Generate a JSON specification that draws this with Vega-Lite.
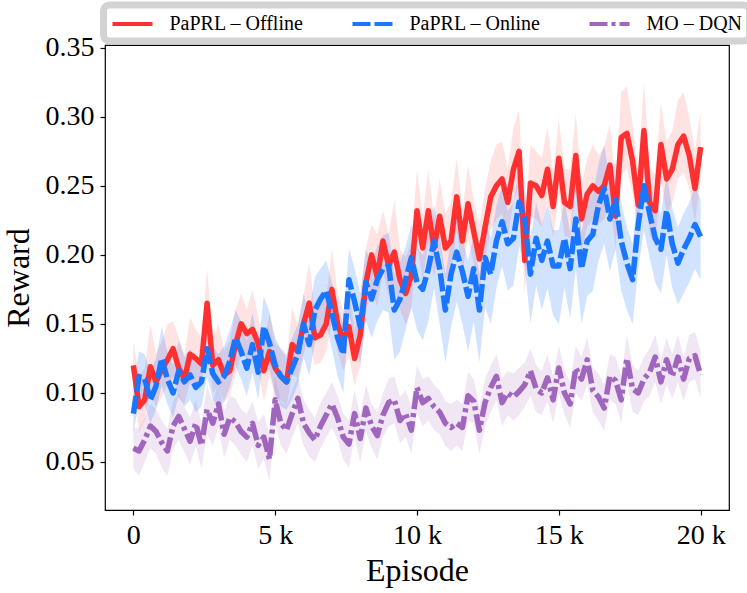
{
  "$schema": "https://vega.github.io/schema/vega-lite/v6.json",
  "description": "Reward per episode for PaPRL offline, PaPRL online and MO-DQN, mean line with shaded band.",
  "width": 624,
  "height": 465,
  "autosize": {"type": "none"},
  "padding": {"left": 105, "top": 45, "right": 18, "bottom": 83},
  "background": "white",
  "datasets": {
    "runs": [
      {"method": "PaPRL – Offline", "episode": 0, "reward": 0.120, "lower": 0.103, "upper": 0.138},
      {"method": "PaPRL – Offline", "episode": 200, "reward": 0.090, "lower": 0.072, "upper": 0.112},
      {"method": "PaPRL – Offline", "episode": 400, "reward": 0.095, "lower": 0.080, "upper": 0.118},
      {"method": "PaPRL – Offline", "episode": 600, "reward": 0.119, "lower": 0.100, "upper": 0.150},
      {"method": "PaPRL – Offline", "episode": 800, "reward": 0.108, "lower": 0.090, "upper": 0.128},
      {"method": "PaPRL – Offline", "episode": 1000, "reward": 0.117, "lower": 0.097, "upper": 0.137},
      {"method": "PaPRL – Offline", "episode": 1200, "reward": 0.124, "lower": 0.106, "upper": 0.150},
      {"method": "PaPRL – Offline", "episode": 1400, "reward": 0.132, "lower": 0.112, "upper": 0.152},
      {"method": "PaPRL – Offline", "episode": 1600, "reward": 0.118, "lower": 0.096, "upper": 0.140},
      {"method": "PaPRL – Offline", "episode": 1800, "reward": 0.110, "lower": 0.092, "upper": 0.128},
      {"method": "PaPRL – Offline", "episode": 2000, "reward": 0.128, "lower": 0.108, "upper": 0.155},
      {"method": "PaPRL – Offline", "episode": 2200, "reward": 0.125, "lower": 0.103, "upper": 0.146},
      {"method": "PaPRL – Offline", "episode": 2400, "reward": 0.121, "lower": 0.104, "upper": 0.140},
      {"method": "PaPRL – Offline", "episode": 2600, "reward": 0.165, "lower": 0.140, "upper": 0.190},
      {"method": "PaPRL – Offline", "episode": 2800, "reward": 0.120, "lower": 0.100, "upper": 0.140},
      {"method": "PaPRL – Offline", "episode": 3000, "reward": 0.124, "lower": 0.106, "upper": 0.150},
      {"method": "PaPRL – Offline", "episode": 3200, "reward": 0.113, "lower": 0.093, "upper": 0.131},
      {"method": "PaPRL – Offline", "episode": 3400, "reward": 0.116, "lower": 0.098, "upper": 0.138},
      {"method": "PaPRL – Offline", "episode": 3600, "reward": 0.135, "lower": 0.113, "upper": 0.160},
      {"method": "PaPRL – Offline", "episode": 3800, "reward": 0.150, "lower": 0.128, "upper": 0.172},
      {"method": "PaPRL – Offline", "episode": 4000, "reward": 0.143, "lower": 0.125, "upper": 0.160},
      {"method": "PaPRL – Offline", "episode": 4200, "reward": 0.146, "lower": 0.124, "upper": 0.175},
      {"method": "PaPRL – Offline", "episode": 4400, "reward": 0.136, "lower": 0.118, "upper": 0.155},
      {"method": "PaPRL – Offline", "episode": 4600, "reward": 0.116, "lower": 0.094, "upper": 0.135},
      {"method": "PaPRL – Offline", "episode": 4800, "reward": 0.130, "lower": 0.112, "upper": 0.158},
      {"method": "PaPRL – Offline", "episode": 5000, "reward": 0.118, "lower": 0.098, "upper": 0.136},
      {"method": "PaPRL – Offline", "episode": 5200, "reward": 0.112, "lower": 0.095, "upper": 0.132},
      {"method": "PaPRL – Offline", "episode": 5400, "reward": 0.108, "lower": 0.090, "upper": 0.125},
      {"method": "PaPRL – Offline", "episode": 5600, "reward": 0.135, "lower": 0.113, "upper": 0.162},
      {"method": "PaPRL – Offline", "episode": 5800, "reward": 0.130, "lower": 0.111, "upper": 0.148},
      {"method": "PaPRL – Offline", "episode": 6000, "reward": 0.150, "lower": 0.128, "upper": 0.170},
      {"method": "PaPRL – Offline", "episode": 6200, "reward": 0.165, "lower": 0.140, "upper": 0.195},
      {"method": "PaPRL – Offline", "episode": 6400, "reward": 0.140, "lower": 0.120, "upper": 0.160},
      {"method": "PaPRL – Offline", "episode": 6600, "reward": 0.142, "lower": 0.122, "upper": 0.170},
      {"method": "PaPRL – Offline", "episode": 6800, "reward": 0.150, "lower": 0.130, "upper": 0.168},
      {"method": "PaPRL – Offline", "episode": 7000, "reward": 0.175, "lower": 0.152, "upper": 0.205},
      {"method": "PaPRL – Offline", "episode": 7200, "reward": 0.150, "lower": 0.130, "upper": 0.172},
      {"method": "PaPRL – Offline", "episode": 7400, "reward": 0.138, "lower": 0.116, "upper": 0.160},
      {"method": "PaPRL – Offline", "episode": 7600, "reward": 0.148, "lower": 0.127, "upper": 0.175},
      {"method": "PaPRL – Offline", "episode": 7800, "reward": 0.125, "lower": 0.105, "upper": 0.145},
      {"method": "PaPRL – Offline", "episode": 8000, "reward": 0.142, "lower": 0.120, "upper": 0.168},
      {"method": "PaPRL – Offline", "episode": 8200, "reward": 0.180, "lower": 0.158, "upper": 0.205},
      {"method": "PaPRL – Offline", "episode": 8400, "reward": 0.200, "lower": 0.176, "upper": 0.222},
      {"method": "PaPRL – Offline", "episode": 8600, "reward": 0.184, "lower": 0.162, "upper": 0.215},
      {"method": "PaPRL – Offline", "episode": 8800, "reward": 0.210, "lower": 0.188, "upper": 0.232},
      {"method": "PaPRL – Offline", "episode": 9000, "reward": 0.192, "lower": 0.170, "upper": 0.215},
      {"method": "PaPRL – Offline", "episode": 9200, "reward": 0.202, "lower": 0.178, "upper": 0.240},
      {"method": "PaPRL – Offline", "episode": 9400, "reward": 0.182, "lower": 0.160, "upper": 0.204},
      {"method": "PaPRL – Offline", "episode": 9600, "reward": 0.172, "lower": 0.150, "upper": 0.198},
      {"method": "PaPRL – Offline", "episode": 9800, "reward": 0.185, "lower": 0.160, "upper": 0.210},
      {"method": "PaPRL – Offline", "episode": 10000, "reward": 0.232, "lower": 0.208, "upper": 0.262},
      {"method": "PaPRL – Offline", "episode": 10200, "reward": 0.205, "lower": 0.182, "upper": 0.228},
      {"method": "PaPRL – Offline", "episode": 10400, "reward": 0.232, "lower": 0.208, "upper": 0.262},
      {"method": "PaPRL – Offline", "episode": 10600, "reward": 0.205, "lower": 0.184, "upper": 0.226},
      {"method": "PaPRL – Offline", "episode": 10800, "reward": 0.228, "lower": 0.204, "upper": 0.255},
      {"method": "PaPRL – Offline", "episode": 11000, "reward": 0.205, "lower": 0.182, "upper": 0.230},
      {"method": "PaPRL – Offline", "episode": 11200, "reward": 0.210, "lower": 0.186, "upper": 0.238},
      {"method": "PaPRL – Offline", "episode": 11400, "reward": 0.242, "lower": 0.218, "upper": 0.270},
      {"method": "PaPRL – Offline", "episode": 11600, "reward": 0.210, "lower": 0.188, "upper": 0.232},
      {"method": "PaPRL – Offline", "episode": 11800, "reward": 0.237, "lower": 0.212, "upper": 0.265},
      {"method": "PaPRL – Offline", "episode": 12000, "reward": 0.217, "lower": 0.194, "upper": 0.240},
      {"method": "PaPRL – Offline", "episode": 12200, "reward": 0.197, "lower": 0.175, "upper": 0.222},
      {"method": "PaPRL – Offline", "episode": 12400, "reward": 0.220, "lower": 0.196, "upper": 0.248},
      {"method": "PaPRL – Offline", "episode": 12600, "reward": 0.242, "lower": 0.218, "upper": 0.268},
      {"method": "PaPRL – Offline", "episode": 12800, "reward": 0.250, "lower": 0.226, "upper": 0.280},
      {"method": "PaPRL – Offline", "episode": 13000, "reward": 0.255, "lower": 0.230, "upper": 0.282},
      {"method": "PaPRL – Offline", "episode": 13200, "reward": 0.238, "lower": 0.214, "upper": 0.262},
      {"method": "PaPRL – Offline", "episode": 13400, "reward": 0.262, "lower": 0.238, "upper": 0.292},
      {"method": "PaPRL – Offline", "episode": 13600, "reward": 0.275, "lower": 0.250, "upper": 0.305},
      {"method": "PaPRL – Offline", "episode": 13800, "reward": 0.196, "lower": 0.172, "upper": 0.220},
      {"method": "PaPRL – Offline", "episode": 14000, "reward": 0.252, "lower": 0.228, "upper": 0.280},
      {"method": "PaPRL – Offline", "episode": 14200, "reward": 0.250, "lower": 0.226, "upper": 0.275},
      {"method": "PaPRL – Offline", "episode": 14400, "reward": 0.243, "lower": 0.220, "upper": 0.270},
      {"method": "PaPRL – Offline", "episode": 14600, "reward": 0.262, "lower": 0.238, "upper": 0.292},
      {"method": "PaPRL – Offline", "episode": 14800, "reward": 0.235, "lower": 0.212, "upper": 0.260},
      {"method": "PaPRL – Offline", "episode": 15000, "reward": 0.270, "lower": 0.245, "upper": 0.298},
      {"method": "PaPRL – Offline", "episode": 15200, "reward": 0.238, "lower": 0.214, "upper": 0.262},
      {"method": "PaPRL – Offline", "episode": 15400, "reward": 0.235, "lower": 0.212, "upper": 0.262},
      {"method": "PaPRL – Offline", "episode": 15600, "reward": 0.272, "lower": 0.246, "upper": 0.302},
      {"method": "PaPRL – Offline", "episode": 15800, "reward": 0.226, "lower": 0.202, "upper": 0.250},
      {"method": "PaPRL – Offline", "episode": 16000, "reward": 0.244, "lower": 0.220, "upper": 0.270},
      {"method": "PaPRL – Offline", "episode": 16200, "reward": 0.250, "lower": 0.226, "upper": 0.280},
      {"method": "PaPRL – Offline", "episode": 16400, "reward": 0.246, "lower": 0.222, "upper": 0.272},
      {"method": "PaPRL – Offline", "episode": 16600, "reward": 0.250, "lower": 0.226, "upper": 0.278},
      {"method": "PaPRL – Offline", "episode": 16800, "reward": 0.265, "lower": 0.240, "upper": 0.295},
      {"method": "PaPRL – Offline", "episode": 17000, "reward": 0.228, "lower": 0.204, "upper": 0.252},
      {"method": "PaPRL – Offline", "episode": 17200, "reward": 0.285, "lower": 0.258, "upper": 0.318},
      {"method": "PaPRL – Offline", "episode": 17400, "reward": 0.288, "lower": 0.262, "upper": 0.322},
      {"method": "PaPRL – Offline", "episode": 17600, "reward": 0.268, "lower": 0.244, "upper": 0.295},
      {"method": "PaPRL – Offline", "episode": 17800, "reward": 0.236, "lower": 0.212, "upper": 0.262},
      {"method": "PaPRL – Offline", "episode": 18000, "reward": 0.290, "lower": 0.264, "upper": 0.325},
      {"method": "PaPRL – Offline", "episode": 18200, "reward": 0.238, "lower": 0.214, "upper": 0.264},
      {"method": "PaPRL – Offline", "episode": 18400, "reward": 0.232, "lower": 0.208, "upper": 0.258},
      {"method": "PaPRL – Offline", "episode": 18600, "reward": 0.280, "lower": 0.255, "upper": 0.310},
      {"method": "PaPRL – Offline", "episode": 18800, "reward": 0.255, "lower": 0.230, "upper": 0.282},
      {"method": "PaPRL – Offline", "episode": 19000, "reward": 0.262, "lower": 0.238, "upper": 0.290},
      {"method": "PaPRL – Offline", "episode": 19200, "reward": 0.280, "lower": 0.255, "upper": 0.312},
      {"method": "PaPRL – Offline", "episode": 19400, "reward": 0.286, "lower": 0.260, "upper": 0.318},
      {"method": "PaPRL – Offline", "episode": 19600, "reward": 0.272, "lower": 0.248, "upper": 0.300},
      {"method": "PaPRL – Offline", "episode": 19800, "reward": 0.248, "lower": 0.224, "upper": 0.275},
      {"method": "PaPRL – Offline", "episode": 20000, "reward": 0.278, "lower": 0.254, "upper": 0.305},

      {"method": "PaPRL – Online", "episode": 0, "reward": 0.085, "lower": 0.070, "upper": 0.105},
      {"method": "PaPRL – Online", "episode": 200, "reward": 0.112, "lower": 0.095, "upper": 0.130},
      {"method": "PaPRL – Online", "episode": 400, "reward": 0.110, "lower": 0.092, "upper": 0.128},
      {"method": "PaPRL – Online", "episode": 600, "reward": 0.095, "lower": 0.078, "upper": 0.115},
      {"method": "PaPRL – Online", "episode": 800, "reward": 0.105, "lower": 0.088, "upper": 0.125},
      {"method": "PaPRL – Online", "episode": 1000, "reward": 0.125, "lower": 0.105, "upper": 0.148},
      {"method": "PaPRL – Online", "episode": 1200, "reward": 0.110, "lower": 0.092, "upper": 0.130},
      {"method": "PaPRL – Online", "episode": 1400, "reward": 0.100, "lower": 0.082, "upper": 0.120},
      {"method": "PaPRL – Online", "episode": 1600, "reward": 0.116, "lower": 0.098, "upper": 0.138},
      {"method": "PaPRL – Online", "episode": 1800, "reward": 0.108, "lower": 0.090, "upper": 0.126},
      {"method": "PaPRL – Online", "episode": 2000, "reward": 0.113, "lower": 0.095, "upper": 0.132},
      {"method": "PaPRL – Online", "episode": 2200, "reward": 0.104, "lower": 0.086, "upper": 0.124},
      {"method": "PaPRL – Online", "episode": 2400, "reward": 0.108, "lower": 0.090, "upper": 0.128},
      {"method": "PaPRL – Online", "episode": 2600, "reward": 0.132, "lower": 0.112, "upper": 0.152},
      {"method": "PaPRL – Online", "episode": 2800, "reward": 0.114, "lower": 0.095, "upper": 0.134},
      {"method": "PaPRL – Online", "episode": 3000, "reward": 0.108, "lower": 0.090, "upper": 0.128},
      {"method": "PaPRL – Online", "episode": 3200, "reward": 0.112, "lower": 0.094, "upper": 0.134},
      {"method": "PaPRL – Online", "episode": 3400, "reward": 0.123, "lower": 0.104, "upper": 0.145},
      {"method": "PaPRL – Online", "episode": 3600, "reward": 0.140, "lower": 0.120, "upper": 0.160},
      {"method": "PaPRL – Online", "episode": 3800, "reward": 0.130, "lower": 0.110, "upper": 0.152},
      {"method": "PaPRL – Online", "episode": 4000, "reward": 0.118, "lower": 0.098, "upper": 0.138},
      {"method": "PaPRL – Online", "episode": 4200, "reward": 0.135, "lower": 0.115, "upper": 0.158},
      {"method": "PaPRL – Online", "episode": 4400, "reward": 0.115, "lower": 0.095, "upper": 0.135},
      {"method": "PaPRL – Online", "episode": 4600, "reward": 0.148, "lower": 0.126, "upper": 0.170},
      {"method": "PaPRL – Online", "episode": 4800, "reward": 0.136, "lower": 0.116, "upper": 0.158},
      {"method": "PaPRL – Online", "episode": 5000, "reward": 0.120, "lower": 0.100, "upper": 0.140},
      {"method": "PaPRL – Online", "episode": 5200, "reward": 0.112, "lower": 0.090, "upper": 0.132},
      {"method": "PaPRL – Online", "episode": 5400, "reward": 0.108, "lower": 0.088, "upper": 0.128},
      {"method": "PaPRL – Online", "episode": 5600, "reward": 0.118, "lower": 0.096, "upper": 0.140},
      {"method": "PaPRL – Online", "episode": 5800, "reward": 0.128, "lower": 0.106, "upper": 0.150},
      {"method": "PaPRL – Online", "episode": 6000, "reward": 0.150, "lower": 0.126, "upper": 0.172},
      {"method": "PaPRL – Online", "episode": 6200, "reward": 0.135, "lower": 0.112, "upper": 0.158},
      {"method": "PaPRL – Online", "episode": 6400, "reward": 0.160, "lower": 0.136, "upper": 0.184},
      {"method": "PaPRL – Online", "episode": 6600, "reward": 0.168, "lower": 0.144, "upper": 0.190},
      {"method": "PaPRL – Online", "episode": 6800, "reward": 0.174, "lower": 0.150, "upper": 0.196},
      {"method": "PaPRL – Online", "episode": 7000, "reward": 0.158, "lower": 0.132, "upper": 0.180},
      {"method": "PaPRL – Online", "episode": 7200, "reward": 0.140, "lower": 0.112, "upper": 0.162},
      {"method": "PaPRL – Online", "episode": 7400, "reward": 0.128, "lower": 0.100, "upper": 0.150},
      {"method": "PaPRL – Online", "episode": 7600, "reward": 0.182, "lower": 0.156, "upper": 0.205},
      {"method": "PaPRL – Online", "episode": 7800, "reward": 0.166, "lower": 0.140, "upper": 0.190},
      {"method": "PaPRL – Online", "episode": 8000, "reward": 0.148, "lower": 0.120, "upper": 0.172},
      {"method": "PaPRL – Online", "episode": 8200, "reward": 0.180, "lower": 0.152, "upper": 0.204},
      {"method": "PaPRL – Online", "episode": 8400, "reward": 0.168, "lower": 0.140, "upper": 0.192},
      {"method": "PaPRL – Online", "episode": 8600, "reward": 0.182, "lower": 0.152, "upper": 0.206},
      {"method": "PaPRL – Online", "episode": 8800, "reward": 0.190, "lower": 0.160, "upper": 0.214},
      {"method": "PaPRL – Online", "episode": 9000, "reward": 0.192, "lower": 0.158, "upper": 0.216},
      {"method": "PaPRL – Online", "episode": 9200, "reward": 0.160, "lower": 0.124, "upper": 0.186},
      {"method": "PaPRL – Online", "episode": 9400, "reward": 0.168, "lower": 0.130, "upper": 0.194},
      {"method": "PaPRL – Online", "episode": 9600, "reward": 0.182, "lower": 0.146, "upper": 0.206},
      {"method": "PaPRL – Online", "episode": 9800, "reward": 0.198, "lower": 0.162, "upper": 0.222},
      {"method": "PaPRL – Online", "episode": 10000, "reward": 0.180, "lower": 0.146, "upper": 0.206},
      {"method": "PaPRL – Online", "episode": 10200, "reward": 0.175, "lower": 0.138, "upper": 0.200},
      {"method": "PaPRL – Online", "episode": 10400, "reward": 0.190, "lower": 0.152, "upper": 0.214},
      {"method": "PaPRL – Online", "episode": 10600, "reward": 0.210, "lower": 0.176, "upper": 0.236},
      {"method": "PaPRL – Online", "episode": 10800, "reward": 0.190, "lower": 0.150, "upper": 0.214},
      {"method": "PaPRL – Online", "episode": 11000, "reward": 0.160, "lower": 0.122, "upper": 0.186},
      {"method": "PaPRL – Online", "episode": 11200, "reward": 0.186, "lower": 0.148, "upper": 0.210},
      {"method": "PaPRL – Online", "episode": 11400, "reward": 0.202, "lower": 0.166, "upper": 0.226},
      {"method": "PaPRL – Online", "episode": 11600, "reward": 0.188, "lower": 0.150, "upper": 0.212},
      {"method": "PaPRL – Online", "episode": 11800, "reward": 0.170, "lower": 0.130, "upper": 0.196},
      {"method": "PaPRL – Online", "episode": 12000, "reward": 0.190, "lower": 0.152, "upper": 0.214},
      {"method": "PaPRL – Online", "episode": 12200, "reward": 0.160, "lower": 0.122, "upper": 0.186},
      {"method": "PaPRL – Online", "episode": 12400, "reward": 0.198, "lower": 0.162, "upper": 0.224},
      {"method": "PaPRL – Online", "episode": 12600, "reward": 0.186, "lower": 0.150, "upper": 0.212},
      {"method": "PaPRL – Online", "episode": 12800, "reward": 0.210, "lower": 0.176, "upper": 0.236},
      {"method": "PaPRL – Online", "episode": 13000, "reward": 0.224, "lower": 0.192, "upper": 0.250},
      {"method": "PaPRL – Online", "episode": 13200, "reward": 0.208, "lower": 0.174, "upper": 0.232},
      {"method": "PaPRL – Online", "episode": 13400, "reward": 0.212, "lower": 0.178, "upper": 0.238},
      {"method": "PaPRL – Online", "episode": 13600, "reward": 0.238, "lower": 0.206, "upper": 0.266},
      {"method": "PaPRL – Online", "episode": 13800, "reward": 0.226, "lower": 0.192, "upper": 0.252},
      {"method": "PaPRL – Online", "episode": 14000, "reward": 0.186, "lower": 0.150, "upper": 0.212},
      {"method": "PaPRL – Online", "episode": 14200, "reward": 0.212, "lower": 0.178, "upper": 0.238},
      {"method": "PaPRL – Online", "episode": 14400, "reward": 0.196, "lower": 0.160, "upper": 0.222},
      {"method": "PaPRL – Online", "episode": 14600, "reward": 0.210, "lower": 0.176, "upper": 0.236},
      {"method": "PaPRL – Online", "episode": 14800, "reward": 0.192, "lower": 0.156, "upper": 0.218},
      {"method": "PaPRL – Online", "episode": 15000, "reward": 0.192, "lower": 0.150, "upper": 0.218},
      {"method": "PaPRL – Online", "episode": 15200, "reward": 0.212, "lower": 0.176, "upper": 0.240},
      {"method": "PaPRL – Online", "episode": 15400, "reward": 0.190, "lower": 0.154, "upper": 0.216},
      {"method": "PaPRL – Online", "episode": 15600, "reward": 0.226, "lower": 0.190, "upper": 0.262},
      {"method": "PaPRL – Online", "episode": 15800, "reward": 0.190, "lower": 0.150, "upper": 0.216},
      {"method": "PaPRL – Online", "episode": 16000, "reward": 0.210, "lower": 0.170, "upper": 0.238},
      {"method": "PaPRL – Online", "episode": 16200, "reward": 0.215, "lower": 0.174, "upper": 0.244},
      {"method": "PaPRL – Online", "episode": 16400, "reward": 0.236, "lower": 0.196, "upper": 0.266},
      {"method": "PaPRL – Online", "episode": 16600, "reward": 0.248, "lower": 0.208, "upper": 0.280},
      {"method": "PaPRL – Online", "episode": 16800, "reward": 0.226, "lower": 0.188, "upper": 0.254},
      {"method": "PaPRL – Online", "episode": 17000, "reward": 0.240, "lower": 0.204, "upper": 0.268},
      {"method": "PaPRL – Online", "episode": 17200, "reward": 0.210, "lower": 0.174, "upper": 0.238},
      {"method": "PaPRL – Online", "episode": 17400, "reward": 0.194, "lower": 0.160, "upper": 0.220},
      {"method": "PaPRL – Online", "episode": 17600, "reward": 0.182, "lower": 0.150, "upper": 0.208},
      {"method": "PaPRL – Online", "episode": 17800, "reward": 0.222, "lower": 0.190, "upper": 0.248},
      {"method": "PaPRL – Online", "episode": 18000, "reward": 0.250, "lower": 0.218, "upper": 0.276},
      {"method": "PaPRL – Online", "episode": 18200, "reward": 0.230, "lower": 0.198, "upper": 0.256},
      {"method": "PaPRL – Online", "episode": 18400, "reward": 0.212, "lower": 0.180, "upper": 0.238},
      {"method": "PaPRL – Online", "episode": 18600, "reward": 0.204, "lower": 0.172, "upper": 0.230},
      {"method": "PaPRL – Online", "episode": 18800, "reward": 0.232, "lower": 0.200, "upper": 0.258},
      {"method": "PaPRL – Online", "episode": 19000, "reward": 0.208, "lower": 0.176, "upper": 0.234},
      {"method": "PaPRL – Online", "episode": 19200, "reward": 0.194, "lower": 0.164, "upper": 0.220},
      {"method": "PaPRL – Online", "episode": 19400, "reward": 0.204, "lower": 0.172, "upper": 0.230},
      {"method": "PaPRL – Online", "episode": 19600, "reward": 0.212, "lower": 0.180, "upper": 0.238},
      {"method": "PaPRL – Online", "episode": 19800, "reward": 0.222, "lower": 0.190, "upper": 0.250},
      {"method": "PaPRL – Online", "episode": 20000, "reward": 0.213, "lower": 0.182, "upper": 0.240},

      {"method": "MO – DQN", "episode": 0, "reward": 0.060, "lower": 0.045, "upper": 0.075},
      {"method": "MO – DQN", "episode": 200, "reward": 0.058, "lower": 0.040, "upper": 0.074},
      {"method": "MO – DQN", "episode": 400, "reward": 0.066, "lower": 0.050, "upper": 0.082},
      {"method": "MO – DQN", "episode": 600, "reward": 0.076, "lower": 0.060, "upper": 0.092},
      {"method": "MO – DQN", "episode": 800, "reward": 0.072, "lower": 0.056, "upper": 0.088},
      {"method": "MO – DQN", "episode": 1000, "reward": 0.064, "lower": 0.046, "upper": 0.080},
      {"method": "MO – DQN", "episode": 1200, "reward": 0.058, "lower": 0.040, "upper": 0.074},
      {"method": "MO – DQN", "episode": 1400, "reward": 0.076, "lower": 0.060, "upper": 0.094},
      {"method": "MO – DQN", "episode": 1600, "reward": 0.083, "lower": 0.066, "upper": 0.100},
      {"method": "MO – DQN", "episode": 1800, "reward": 0.074, "lower": 0.057, "upper": 0.090},
      {"method": "MO – DQN", "episode": 2000, "reward": 0.065, "lower": 0.048, "upper": 0.082},
      {"method": "MO – DQN", "episode": 2200, "reward": 0.078, "lower": 0.062, "upper": 0.095},
      {"method": "MO – DQN", "episode": 2400, "reward": 0.062, "lower": 0.045, "upper": 0.078},
      {"method": "MO – DQN", "episode": 2600, "reward": 0.088, "lower": 0.070, "upper": 0.105},
      {"method": "MO – DQN", "episode": 2800, "reward": 0.078, "lower": 0.062, "upper": 0.094},
      {"method": "MO – DQN", "episode": 3000, "reward": 0.092, "lower": 0.075, "upper": 0.108},
      {"method": "MO – DQN", "episode": 3200, "reward": 0.070, "lower": 0.053, "upper": 0.087},
      {"method": "MO – DQN", "episode": 3400, "reward": 0.082, "lower": 0.066, "upper": 0.098},
      {"method": "MO – DQN", "episode": 3600, "reward": 0.079, "lower": 0.062, "upper": 0.096},
      {"method": "MO – DQN", "episode": 3800, "reward": 0.072, "lower": 0.055, "upper": 0.088},
      {"method": "MO – DQN", "episode": 4000, "reward": 0.068, "lower": 0.050, "upper": 0.085},
      {"method": "MO – DQN", "episode": 4200, "reward": 0.078, "lower": 0.062, "upper": 0.094},
      {"method": "MO – DQN", "episode": 4400, "reward": 0.062, "lower": 0.045, "upper": 0.079},
      {"method": "MO – DQN", "episode": 4600, "reward": 0.068, "lower": 0.052, "upper": 0.085},
      {"method": "MO – DQN", "episode": 4800, "reward": 0.052, "lower": 0.036, "upper": 0.070},
      {"method": "MO – DQN", "episode": 5000, "reward": 0.095, "lower": 0.078, "upper": 0.112},
      {"method": "MO – DQN", "episode": 5200, "reward": 0.078, "lower": 0.062, "upper": 0.094},
      {"method": "MO – DQN", "episode": 5400, "reward": 0.073, "lower": 0.056, "upper": 0.090},
      {"method": "MO – DQN", "episode": 5600, "reward": 0.085, "lower": 0.068, "upper": 0.102},
      {"method": "MO – DQN", "episode": 5800, "reward": 0.096, "lower": 0.078, "upper": 0.112},
      {"method": "MO – DQN", "episode": 6000, "reward": 0.078, "lower": 0.062, "upper": 0.095},
      {"method": "MO – DQN", "episode": 6200, "reward": 0.071, "lower": 0.054, "upper": 0.088},
      {"method": "MO – DQN", "episode": 6400, "reward": 0.066, "lower": 0.050, "upper": 0.082},
      {"method": "MO – DQN", "episode": 6600, "reward": 0.076, "lower": 0.060, "upper": 0.093},
      {"method": "MO – DQN", "episode": 6800, "reward": 0.084, "lower": 0.068, "upper": 0.100},
      {"method": "MO – DQN", "episode": 7000, "reward": 0.092, "lower": 0.075, "upper": 0.108},
      {"method": "MO – DQN", "episode": 7200, "reward": 0.082, "lower": 0.066, "upper": 0.098},
      {"method": "MO – DQN", "episode": 7400, "reward": 0.068, "lower": 0.052, "upper": 0.085},
      {"method": "MO – DQN", "episode": 7600, "reward": 0.063, "lower": 0.046, "upper": 0.080},
      {"method": "MO – DQN", "episode": 7800, "reward": 0.085, "lower": 0.068, "upper": 0.102},
      {"method": "MO – DQN", "episode": 8000, "reward": 0.067, "lower": 0.050, "upper": 0.084},
      {"method": "MO – DQN", "episode": 8200, "reward": 0.089, "lower": 0.072, "upper": 0.106},
      {"method": "MO – DQN", "episode": 8400, "reward": 0.076, "lower": 0.060, "upper": 0.092},
      {"method": "MO – DQN", "episode": 8600, "reward": 0.069, "lower": 0.052, "upper": 0.086},
      {"method": "MO – DQN", "episode": 8800, "reward": 0.084, "lower": 0.068, "upper": 0.100},
      {"method": "MO – DQN", "episode": 9000, "reward": 0.093, "lower": 0.076, "upper": 0.110},
      {"method": "MO – DQN", "episode": 9200, "reward": 0.095, "lower": 0.078, "upper": 0.112},
      {"method": "MO – DQN", "episode": 9400, "reward": 0.080, "lower": 0.064, "upper": 0.097},
      {"method": "MO – DQN", "episode": 9600, "reward": 0.085, "lower": 0.068, "upper": 0.102},
      {"method": "MO – DQN", "episode": 9800, "reward": 0.073, "lower": 0.056, "upper": 0.090},
      {"method": "MO – DQN", "episode": 10000, "reward": 0.104, "lower": 0.086, "upper": 0.120},
      {"method": "MO – DQN", "episode": 10200, "reward": 0.093, "lower": 0.076, "upper": 0.110},
      {"method": "MO – DQN", "episode": 10400, "reward": 0.096, "lower": 0.080, "upper": 0.112},
      {"method": "MO – DQN", "episode": 10600, "reward": 0.090, "lower": 0.073, "upper": 0.106},
      {"method": "MO – DQN", "episode": 10800, "reward": 0.086, "lower": 0.070, "upper": 0.102},
      {"method": "MO – DQN", "episode": 11000, "reward": 0.078, "lower": 0.062, "upper": 0.094},
      {"method": "MO – DQN", "episode": 11200, "reward": 0.075, "lower": 0.058, "upper": 0.092},
      {"method": "MO – DQN", "episode": 11400, "reward": 0.078, "lower": 0.062, "upper": 0.095},
      {"method": "MO – DQN", "episode": 11600, "reward": 0.075, "lower": 0.058, "upper": 0.092},
      {"method": "MO – DQN", "episode": 11800, "reward": 0.098, "lower": 0.080, "upper": 0.115},
      {"method": "MO – DQN", "episode": 12000, "reward": 0.094, "lower": 0.078, "upper": 0.110},
      {"method": "MO – DQN", "episode": 12200, "reward": 0.073, "lower": 0.056, "upper": 0.090},
      {"method": "MO – DQN", "episode": 12400, "reward": 0.093, "lower": 0.076, "upper": 0.110},
      {"method": "MO – DQN", "episode": 12600, "reward": 0.104, "lower": 0.086, "upper": 0.120},
      {"method": "MO – DQN", "episode": 12800, "reward": 0.112, "lower": 0.095, "upper": 0.128},
      {"method": "MO – DQN", "episode": 13000, "reward": 0.093, "lower": 0.076, "upper": 0.110},
      {"method": "MO – DQN", "episode": 13200, "reward": 0.100, "lower": 0.084, "upper": 0.116},
      {"method": "MO – DQN", "episode": 13400, "reward": 0.097, "lower": 0.080, "upper": 0.114},
      {"method": "MO – DQN", "episode": 13600, "reward": 0.101, "lower": 0.084, "upper": 0.118},
      {"method": "MO – DQN", "episode": 13800, "reward": 0.106, "lower": 0.090, "upper": 0.122},
      {"method": "MO – DQN", "episode": 14000, "reward": 0.116, "lower": 0.098, "upper": 0.132},
      {"method": "MO – DQN", "episode": 14200, "reward": 0.103, "lower": 0.086, "upper": 0.120},
      {"method": "MO – DQN", "episode": 14400, "reward": 0.100, "lower": 0.084, "upper": 0.116},
      {"method": "MO – DQN", "episode": 14600, "reward": 0.111, "lower": 0.094, "upper": 0.128},
      {"method": "MO – DQN", "episode": 14800, "reward": 0.095, "lower": 0.078, "upper": 0.112},
      {"method": "MO – DQN", "episode": 15000, "reward": 0.118, "lower": 0.100, "upper": 0.134},
      {"method": "MO – DQN", "episode": 15200, "reward": 0.100, "lower": 0.084, "upper": 0.116},
      {"method": "MO – DQN", "episode": 15400, "reward": 0.092, "lower": 0.075, "upper": 0.108},
      {"method": "MO – DQN", "episode": 15600, "reward": 0.118, "lower": 0.100, "upper": 0.134},
      {"method": "MO – DQN", "episode": 15800, "reward": 0.110, "lower": 0.094, "upper": 0.126},
      {"method": "MO – DQN", "episode": 16000, "reward": 0.124, "lower": 0.106, "upper": 0.140},
      {"method": "MO – DQN", "episode": 16200, "reward": 0.102, "lower": 0.086, "upper": 0.118},
      {"method": "MO – DQN", "episode": 16400, "reward": 0.097, "lower": 0.080, "upper": 0.114},
      {"method": "MO – DQN", "episode": 16600, "reward": 0.089, "lower": 0.072, "upper": 0.106},
      {"method": "MO – DQN", "episode": 16800, "reward": 0.112, "lower": 0.095, "upper": 0.128},
      {"method": "MO – DQN", "episode": 17000, "reward": 0.109, "lower": 0.092, "upper": 0.126},
      {"method": "MO – DQN", "episode": 17200, "reward": 0.095, "lower": 0.078, "upper": 0.112},
      {"method": "MO – DQN", "episode": 17400, "reward": 0.125, "lower": 0.108, "upper": 0.142},
      {"method": "MO – DQN", "episode": 17600, "reward": 0.103, "lower": 0.086, "upper": 0.120},
      {"method": "MO – DQN", "episode": 17800, "reward": 0.100, "lower": 0.084, "upper": 0.116},
      {"method": "MO – DQN", "episode": 18000, "reward": 0.110, "lower": 0.094, "upper": 0.126},
      {"method": "MO – DQN", "episode": 18200, "reward": 0.115, "lower": 0.098, "upper": 0.132},
      {"method": "MO – DQN", "episode": 18400, "reward": 0.126, "lower": 0.108, "upper": 0.142},
      {"method": "MO – DQN", "episode": 18600, "reward": 0.108, "lower": 0.092, "upper": 0.124},
      {"method": "MO – DQN", "episode": 18800, "reward": 0.124, "lower": 0.106, "upper": 0.140},
      {"method": "MO – DQN", "episode": 19000, "reward": 0.112, "lower": 0.096, "upper": 0.128},
      {"method": "MO – DQN", "episode": 19200, "reward": 0.126, "lower": 0.108, "upper": 0.142},
      {"method": "MO – DQN", "episode": 19400, "reward": 0.110, "lower": 0.094, "upper": 0.126},
      {"method": "MO – DQN", "episode": 19600, "reward": 0.125, "lower": 0.108, "upper": 0.142},
      {"method": "MO – DQN", "episode": 19800, "reward": 0.127, "lower": 0.110, "upper": 0.144},
      {"method": "MO – DQN", "episode": 20000, "reward": 0.113, "lower": 0.096, "upper": 0.130}
    ]
  },
  "data": {"name": "runs"},
  "encoding": {
    "x": {
      "field": "episode",
      "type": "quantitative",
      "scale": {"domain": [-1000, 21000], "nice": false, "zero": false},
      "axis": {
        "title": "Episode",
        "values": [0, 5000, 10000, 15000, 20000],
        "labelExpr": "datum.value == 0 ? '0' : (datum.value / 1000) + ' k'",
        "labelPadding": 6,
        "titlePadding": 6
      }
    },
    "y": {
      "field": "lower",
      "type": "quantitative",
      "scale": {"domain": [0.0152, 0.352], "nice": false, "zero": false},
      "axis": {
        "title": "Reward",
        "values": [0.05, 0.1, 0.15, 0.2, 0.25, 0.3, 0.35],
        "format": ".2f",
        "labelPadding": 6,
        "titlePadding": 10
      }
    },
    "y2": {"field": "upper"}
  },
  "layer": [
    {
      "transform": [{"filter": "datum.method == 'PaPRL – Offline'"}],
      "mark": {"type": "area", "color": "#ff3030", "opacity": 0.14}
    },
    {
      "transform": [{"filter": "datum.method == 'PaPRL – Online'"}],
      "mark": {"type": "area", "color": "#1a75ff", "opacity": 0.2}
    },
    {
      "transform": [{"filter": "datum.method == 'MO – DQN'"}],
      "mark": {"type": "area", "color": "#a066bd", "opacity": 0.16}
    },
    {
      "mark": {"type": "line", "strokeWidth": 5.5, "strokeCap": "butt", "strokeJoin": "round"},
      "encoding": {
        "y": {"field": "reward", "type": "quantitative", "title": "Reward"},
        "y2": null,
        "color": {
          "field": "method",
          "type": "nominal",
          "scale": {
            "domain": ["PaPRL – Offline", "PaPRL – Online", "MO – DQN"],
            "range": ["#ff3030", "#1a75ff", "#a066bd"]
          },
          "legend": {
            "title": null,
            "orient": "none",
            "legendX": -1.5,
            "legendY": -40,
            "direction": "horizontal",
            "symbolType": "M-1,0L3,0",
            "symbolSize": 400,
            "symbolStrokeWidth": 4,
            "labelFont": "Liberation Serif",
            "labelFontSize": 20,
            "labelColor": "black",
            "labelOffset": 35,
            "labelLimit": 300,
            "columnPadding": 40,
            "padding": 7,
            "strokeColor": "#d3d3d3",
            "cornerRadius": 6,
            "fillColor": "white"
          }
        },
        "strokeDash": {
          "field": "method",
          "type": "nominal",
          "scale": {
            "domain": ["PaPRL – Offline", "PaPRL – Online", "MO – DQN"],
            "range": [[1, 0], [18, 4], [18, 4, 4, 4]]
          },
          "legend": {
            "title": null,
            "orient": "none",
            "legendX": -1.5,
            "legendY": -40,
            "direction": "horizontal",
            "symbolType": "M-1,0L3,0",
            "symbolSize": 400,
            "symbolStrokeWidth": 4,
            "labelFont": "Liberation Serif",
            "labelFontSize": 20,
            "labelColor": "black",
            "labelOffset": 35,
            "labelLimit": 300,
            "columnPadding": 40,
            "padding": 7,
            "strokeColor": "#d3d3d3",
            "cornerRadius": 6,
            "fillColor": "white"
          }
        }
      }
    }
  ],
  "config": {
    "font": "Liberation Serif",
    "view": {"stroke": "black", "strokeWidth": 1.2},
    "axis": {
      "grid": false,
      "domain": false,
      "labelFont": "Liberation Serif",
      "labelFontSize": 28,
      "labelColor": "black",
      "titleFont": "Liberation Serif",
      "titleFontSize": 32,
      "titleFontWeight": "normal",
      "titleColor": "black",
      "tickColor": "black",
      "tickSize": 5,
      "tickWidth": 1.2
    },
    "legend": {
      "labelFont": "Liberation Serif",
      "strokeWidth": 7
    }
  }
}
